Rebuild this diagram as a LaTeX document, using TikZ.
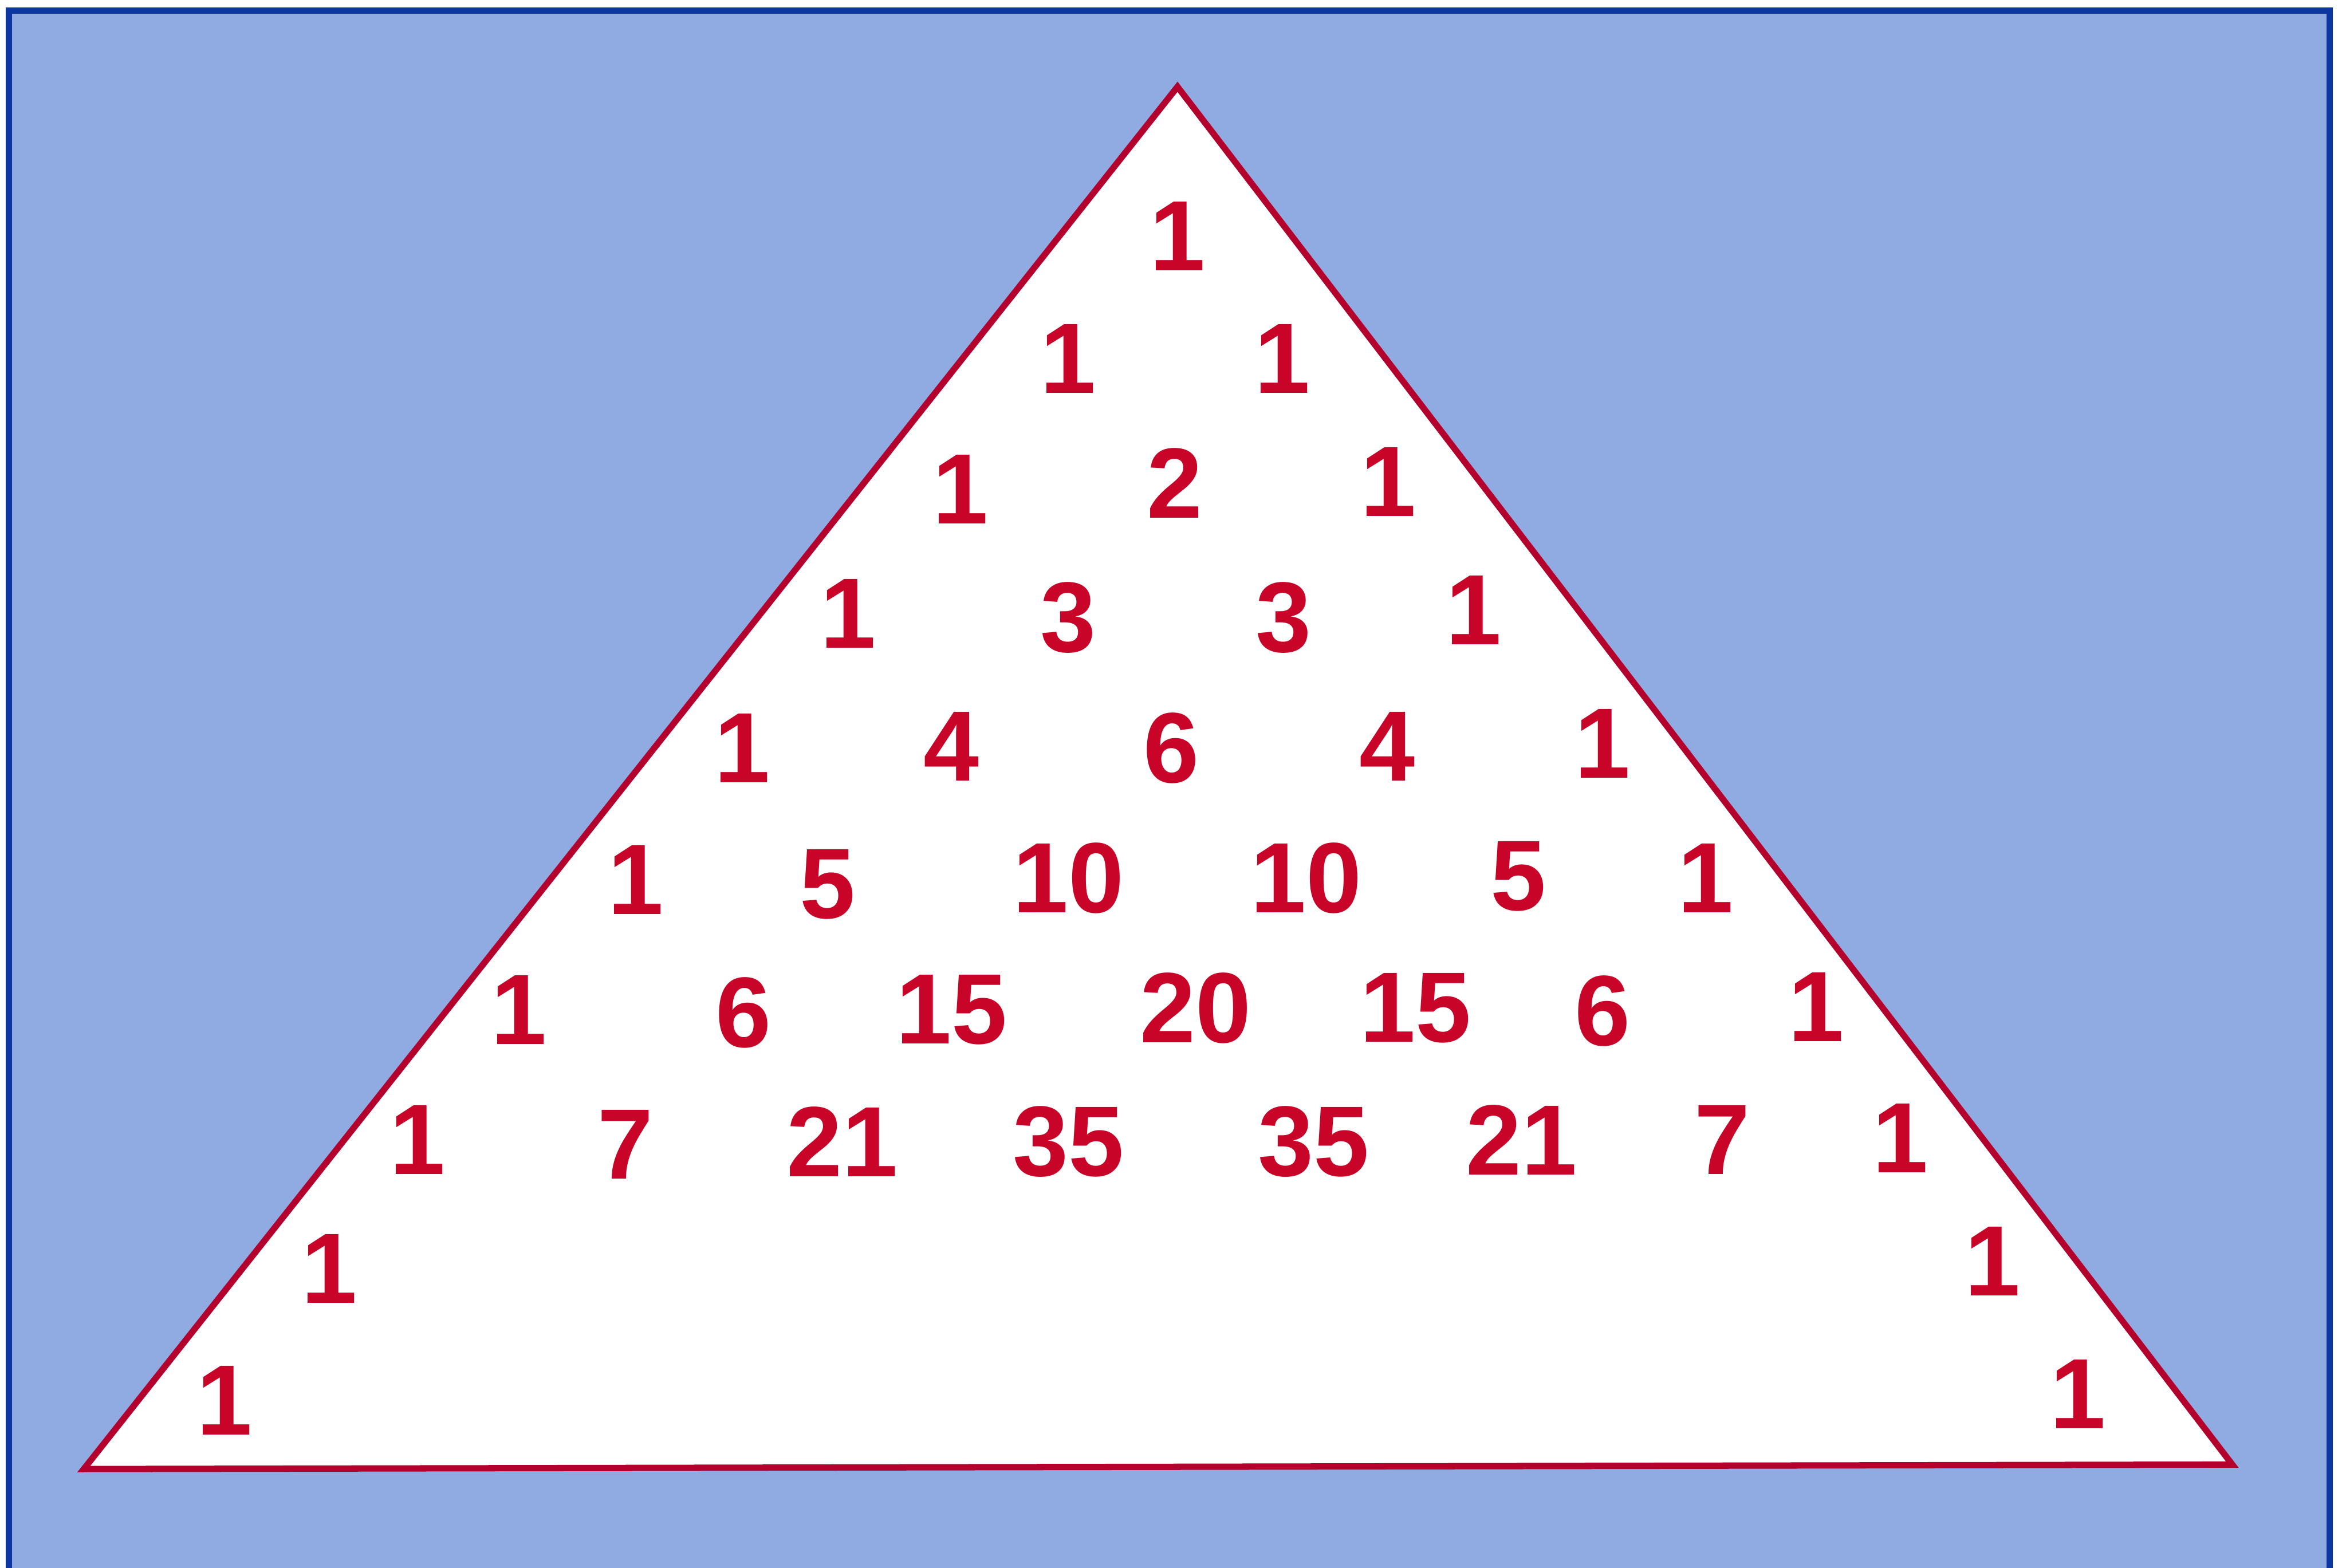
\documentclass[tikz,border=0pt]{standalone}
\usepackage{fontspec}
\setmainfont{Liberation Sans}
\usepackage{xcolor}
\usepackage{tikz}

\definecolor{pasblue}{RGB}{143,171,225}
\definecolor{frameblue}{RGB}{12,54,160}
\definecolor{pasred}{RGB}{200,4,40}
\definecolor{edgered}{RGB}{180,0,45}
\tikzset{num/.style={text=pasred,font=\fontsize{19}{20}\selectfont\bfseries,inner sep=0pt}}

\begin{document}
\begin{tikzpicture}[x=0.01cm, y=-0.01cm]
  \useasboundingbox (0,0) rectangle (1568,1048);
  \fill[white] (0,0) rectangle (1568,1048);
  % frame
  \filldraw[fill=pasblue, draw=frameblue, line width=1.2pt] (6,7) rectangle (1557,1070);

  % triangle
  \coordinate (apex) at (787,58);
  \coordinate (bl) at (56,982);
  \coordinate (br) at (1492,979);
  \filldraw[fill=white, draw=edgered, line width=1.2pt] (apex) -- (bl) -- (br) -- cycle;

  % rows of the triangle
  \node[num] (r0-1) at (787,158) {1};
  \foreach \x/\y/\v [count=\c] in {714/240/1,857/240/1}
    \node[num] (r1-\c) at (\x,\y) {\v};
  \foreach \x/\y/\v [count=\c] in {642/327/1,785/323/2,928/322/1}
    \node[num] (r2-\c) at (\x,\y) {\v};
  \foreach \x/\y/\v [count=\c] in {567/410/1,714/413/3,858/413/3,985/408/1}
    \node[num] (r3-\c) at (\x,\y) {\v};
  \foreach \x/\y/\v [count=\c] in {496/500/1,636/499/4,783/500/6,927/499/4,1071/497/1}
    \node[num] (r4-\c) at (\x,\y) {\v};
  \foreach \x/\y/\v [count=\c] in {425/588/1,553/591/5,714/587/10,873/587/10,1015/586/5,1140/587/1}
    \node[num] (r5-\c) at (\x,\y) {\v};
  \foreach \x/\y/\v [count=\c] in {347/675/1,497/677/6,636/675/15,799/674/20,946/674/15,1071/676/6,1214/673/1}
    \node[num] (r6-\c) at (\x,\y) {\v};
  \foreach \x/\y/\v [count=\c] in {279/762/1,418/765/7,563/763/21,714/763/35,878/763/35,1017/762/21,1151/762/7,1270/761/1}
    \node[num] (r7-\c) at (\x,\y) {\v};

  % only the outer ones below
  \foreach \x/\y/\v [count=\c] in {220/848/1,1332/843/1}
    \node[num] (r8-\c) at (\x,\y) {\v};
  \foreach \x/\y/\v [count=\c] in {150/936/1,1389/932/1}
    \node[num] (r9-\c) at (\x,\y) {\v};
\end{tikzpicture}
\end{document}
